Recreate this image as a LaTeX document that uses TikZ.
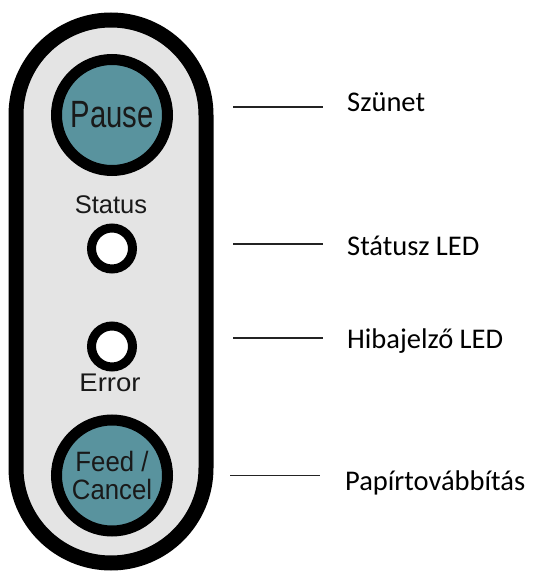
\documentclass[tikz,border=0pt]{standalone}
\usepackage{fontspec}
\newfontfamily\labfont{Carlito}
\newfontfamily\arialfont{Liberation Sans}
\newfontfamily\pausefont[FakeStretch=0.77]{Liberation Sans}
\newfontfamily\feedfont[FakeStretch=0.92]{Liberation Sans}
\newfontfamily\errfont[FakeStretch=1.08]{Liberation Sans}
\definecolor{btnteal}{RGB}{89,147,158}
\definecolor{panelgray}{RGB}{228,228,228}
\definecolor{leadgray}{RGB}{35,35,35}
\begin{document}
\begin{tikzpicture}[x=1pt,y=1pt,
  button/.style={circle, draw=black, line width=11pt, fill=btnteal, minimum size=111pt, inner sep=0pt},
  led/.style={circle, draw=black, line width=9pt, fill=white, minimum size=41pt, inner sep=0pt},
  panel/.style={fill=panelgray, draw=black, line width=15pt},
  lead/.style={draw=leadgray, line width=1.6pt},
  lab/.style={font=\labfont\fontsize{28.5}{30}\selectfont, anchor=base west, inner sep=0pt, text=black},
  smalltxt/.style={anchor=base, inner sep=0pt, text=black!90}]
\useasboundingbox (0,0) rectangle (534,574);
\fill[white] (0,0) rectangle (534,574);
% panel
\path[panel] (16,106) -- (16,459) arc[start angle=180,end angle=0,radius=95]
  -- (206,106) arc[start angle=0,end angle=-180,radius=95] -- cycle;
% buttons and LEDs
\node[button, font=\pausefont\fontsize{38}{38}\selectfont, text=black!90] (pause) at (112,459) {Pause};
\node[smalltxt, font=\arialfont\fontsize{25.5}{26}\selectfont] (statustxt) at (111,360.7) {Status};
\node[led] (statusled) at (112,325.5) {};
\node[led] (errorled) at (112,227.5) {};
\node[smalltxt, font=\errfont\fontsize{25.5}{26}\selectfont] (errortxt) at (110,182.3) {Error};
\node[button, font=\feedfont\fontsize{28}{27.5}\selectfont, align=center, text=black!90] (feed) at (112,98.5) {Feed /\\Cancel};
% labels
\node[lab] (szunet) at (347,462.3) {Szünet};
\node[lab] (statusl) at (347,318.3) {Státusz LED};
\node[lab] (hiba) at (347,225.7) {Hibajelző LED};
\node[lab] (papir) at (345,83) {Papírtovábbítás};
% leader lines
\coordinate (s1) at (233,467);
\coordinate (s2) at (233,329.7);
\coordinate (s3) at (233,235.7);
\coordinate (s4) at (230,98.3);
\draw[lead, shorten >=24pt] (s1) -- (s1 -| szunet.west);
\draw[lead, shorten >=24pt] (s2) -- (s2 -| statusl.west);
\draw[lead, shorten >=24pt] (s3) -- (s3 -| hiba.west);
\draw[lead, shorten >=25pt] (s4) -- (s4 -| papir.west);
\end{tikzpicture}
\end{document}
